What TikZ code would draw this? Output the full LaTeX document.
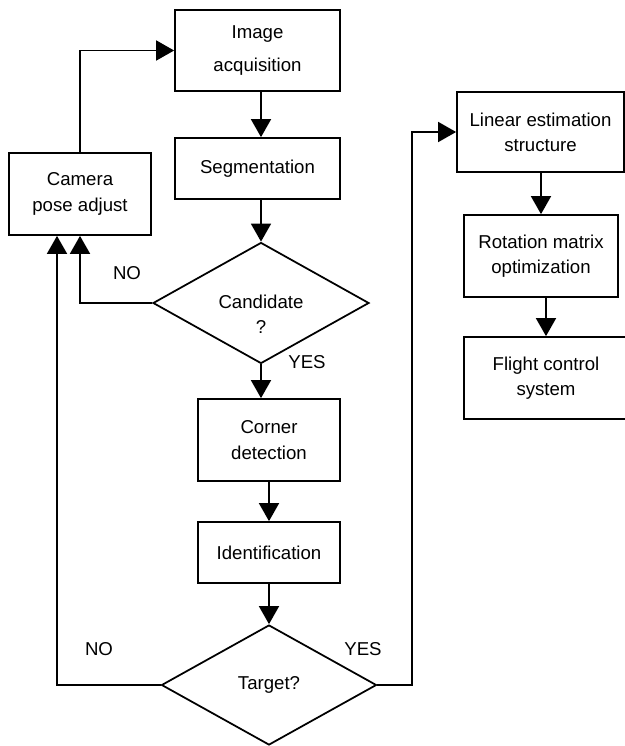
\documentclass[tikz,border=0pt]{standalone}
\usepackage{fontspec}
\setmainfont{Liberation Sans}
\usetikzlibrary{arrows.meta,shapes.geometric}

\tikzset{
  box/.style={draw,line width=1.5pt,align=center,inner sep=0pt},
  decision/.style={draw,diamond,line width=1.5pt,align=center,inner sep=0pt,shape aspect=1.8},
  flow/.style={line width=1.5pt,-{Triangle[length=0.54cm,width=0.6cm]}},
  answer/.style={inner sep=0pt}
}

\begin{document}
\begin{tikzpicture}[x=0.03cm,y=-0.03cm,font=\fontsize{15.9pt}{21.5pt}\selectfont]
  \useasboundingbox (0,0) rectangle (625,746);
  \node[box,minimum width=4.95cm,minimum height=2.43cm] (acq) at (257.5,50.5) {Image\\[6pt]acquisition};
  \node[box,minimum width=4.95cm,minimum height=1.83cm] (seg) at (257.5,168.5) {Segmentation};
  \node[box,minimum width=4.26cm,minimum height=2.46cm] (cam) at (80,194) {Camera\\pose adjust};
  \node[decision,minimum width=6.48cm,minimum height=3.63cm] (cand) at (261,303) {};
  \node[answer,align=center] (candtxt) at (261,314) {Candidate\\?};
  \node[box,minimum width=4.26cm,minimum height=2.46cm] (corner) at (269,440) {Corner\\detection};
  \node[box,minimum width=4.26cm,minimum height=1.83cm] (ident) at (269,552.5) {Identification};
  \node[decision,minimum width=6.45cm,minimum height=3.6cm] (target) at (269,685) {Target?};
  \node[box,minimum width=5.01cm,minimum height=2.4cm] (lin) at (540.5,132) {Linear estimation\\structure};
  \node[box,minimum width=4.62cm,minimum height=2.46cm] (rot) at (541,256) {Rotation matrix\\optimization};
  \node[box,minimum width=4.92cm,minimum height=2.46cm] (flight) at (546,378) {Flight control\\system};

  \coordinate (noturn) at (57,685);
  \coordinate (yesturn) at (412,685);

  \draw[flow] (acq.south -| cand.north) -- (cand.north |- seg.north);
  \draw[flow] (seg.south -| cand.north) -- (cand.north);
  \draw[flow] (cand.south) -- (cand.south |- corner.north);
  \draw[flow] (corner) -- (ident);
  \draw[flow] (ident) -- (target);
  \draw[flow] (cand.west) -| (cam.south);
  \draw[flow] (target.west) -- (noturn) -- (noturn |- cam.south);
  \draw[flow] (cam.north) |- (acq.west);
  \draw[flow] (target.east) -- (yesturn) |- (lin.west);
  \draw[flow] (lin.south -| rot.north) -- (rot.north);
  \draw[flow] (rot.south -| flight.north) -- (flight.north);

  \node[answer] (candno) at (127,273) {NO};
  \node[answer] (candyes) at (307,362) {YES};
  \node[answer] (targetno) at (99,649) {NO};
  \node[answer] (targetyes) at (363,649) {YES};
\end{tikzpicture}
\end{document}
